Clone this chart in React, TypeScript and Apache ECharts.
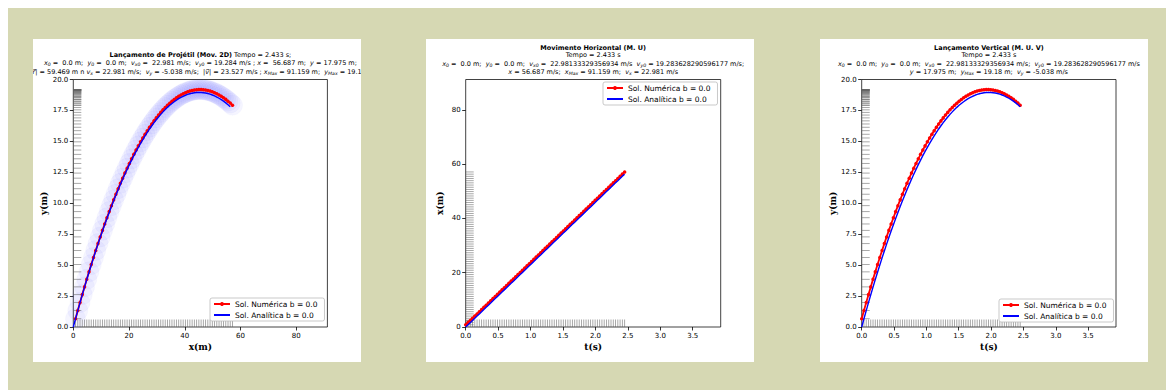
import React, { useEffect, useRef } from "react";
import * as echarts from "echarts";

// ---------------- data ----------------
const TEMPO = [0, 0.035, 0.07, 0.105, 0.14, 0.175, 0.21, 0.245, 0.28, 0.315, 0.35, 0.385, 0.42, 0.455, 0.49, 0.525, 0.56, 0.595, 0.63, 0.665, 0.7, 0.735, 0.77, 0.805, 0.84, 0.875, 0.91, 0.945, 0.98, 1.015, 1.05, 1.085, 1.12, 1.155, 1.19, 1.225, 1.26, 1.295, 1.33, 1.365, 1.4, 1.435, 1.47, 1.505, 1.54, 1.575, 1.61, 1.645, 1.68, 1.715, 1.75, 1.785, 1.82, 1.855, 1.89, 1.925, 1.96, 1.995, 2.03, 2.065, 2.1, 2.135, 2.17, 2.205, 2.24, 2.275, 2.31, 2.345, 2.38, 2.415, 2.45];

const X_ANALITICA = [0, 0.804, 1.609, 2.413, 3.217, 4.022, 4.826, 5.63, 6.435, 7.239, 8.043, 8.848, 9.652, 10.456, 11.261, 12.065, 12.869, 13.674, 14.478, 15.282, 16.087, 16.891, 17.695, 18.5, 19.304, 20.108, 20.913, 21.717, 22.521, 23.326, 24.13, 24.934, 25.739, 26.543, 27.347, 28.152, 28.956, 29.76, 30.565, 31.369, 32.173, 32.978, 33.782, 34.586, 35.391, 36.195, 36.999, 37.804, 38.608, 39.412, 40.217, 41.021, 41.825, 42.63, 43.434, 44.238, 45.043, 45.847, 46.651, 47.456, 48.26, 49.064, 49.869, 50.673, 51.477, 52.282, 53.086, 53.89, 54.695, 55.499, 56.303];

const Y_ANALITICA = [0, 0.6689, 1.3258, 1.9707, 2.6036, 3.2245, 3.8333, 4.4302, 5.015, 5.5878, 6.1485, 6.6973, 7.234, 7.7588, 8.2715, 8.7722, 9.2608, 9.7375, 10.2021, 10.6548, 11.0954, 11.5239, 11.9405, 12.3451, 12.7376, 13.1181, 13.4866, 13.8431, 14.1876, 14.52, 14.8404, 15.1489, 15.4453, 15.7296, 16.002, 16.2623, 16.5107, 16.747, 16.9713, 17.1835, 17.3838, 17.572, 17.7483, 17.9125, 18.0647, 18.2048, 18.333, 18.4491, 18.5532, 18.6454, 18.7254, 18.7935, 18.8496, 18.8936, 18.9256, 18.9456, 18.9536, 18.9496, 18.9335, 18.9054, 18.8654, 18.8133, 18.7491, 18.673, 18.5848, 18.4847, 18.3725, 18.2483, 18.112, 17.9638, 17.8035];

const X_NUMERICA = [0.804, 1.609, 2.413, 3.217, 4.022, 4.826, 5.63, 6.435, 7.239, 8.043, 8.848, 9.652, 10.456, 11.261, 12.065, 12.869, 13.674, 14.478, 15.282, 16.087, 16.891, 17.695, 18.5, 19.304, 20.108, 20.913, 21.717, 22.521, 23.326, 24.13, 24.934, 25.739, 26.543, 27.347, 28.152, 28.956, 29.76, 30.565, 31.369, 32.173, 32.978, 33.782, 34.586, 35.391, 36.195, 36.999, 37.804, 38.608, 39.412, 40.217, 41.021, 41.825, 42.63, 43.434, 44.238, 45.043, 45.847, 46.651, 47.456, 48.26, 49.064, 49.869, 50.673, 51.477, 52.282, 53.086, 53.89, 54.695, 55.499, 56.303, 57.108];

const Y_NUMERICA = [0.6689, 1.33, 1.9791, 2.6162, 3.2413, 3.8543, 4.4554, 5.0444, 5.6214, 6.1863, 6.7393, 7.2802, 7.8092, 8.3261, 8.831, 9.3238, 9.8047, 10.2735, 10.7304, 11.1752, 11.6079, 12.0287, 12.4375, 12.8342, 13.2189, 13.5916, 13.9523, 14.301, 14.6376, 14.9622, 15.2749, 15.5755, 15.864, 16.1406, 16.4051, 16.6577, 16.8982, 17.1267, 17.3431, 17.5476, 17.74, 17.9205, 18.0889, 18.2453, 18.3896, 18.522, 18.6423, 18.7506, 18.847, 18.9312, 19.0035, 19.0638, 19.112, 19.1482, 19.1724, 19.1846, 19.1848, 19.1729, 19.149, 19.1132, 19.0653, 19.0053, 18.9334, 18.8494, 18.7535, 18.6455, 18.5255, 18.3934, 18.2494, 18.0933, 17.9253];

const TICKS_X_M = [0, 20, 40, 60, 80];
const TICKS_Y_M = [0, 2.5, 5, 7.5, 10, 12.5, 15, 17.5, 20];
const TICKS_X_VERT = [0, 20, 40, 60, 80];
const TICKS_T = [0, 0.5, 1, 1.5, 2, 2.5, 3, 3.5];

const X_MAX = 91.159;
const Y_MAX = 20;
const T_MAX = 3.931;

const NUM = "Sol. Numérica b = 0.0";
const ANA = "Sol. Analítica b = 0.0";

// ---------------- layout (page coords) ----------------
const OFF = 8;
const P = (v: number) => v - OFF;
const FONT = "DejaVu Sans";
const SERIF = "DejaVu Serif";
const GREEN = "#d6d8b3";

const GRID_TOP = 79.5;
const GRID_BOTTOM = 327;

const pairs = (a: number[], b: number[]) => a.map((v, i) => [v, b[i]]);

const PANELS = [
  {
    panelX: 33, gx: 73.3, gw: 254.1,
    xMax: X_MAX, yMax: Y_MAX, xTicks: TICKS_X_M, yTicks: TICKS_Y_M, xDec: 0, yDec: 1,
    num: pairs(X_NUMERICA, Y_NUMERICA), ana: pairs(X_ANALITICA, Y_ANALITICA),
    rugX: X_NUMERICA, rugY: Y_NUMERICA, halo: true,
    legend: { left: 210, top: 298 },
    xName: "x(m)", yName: "y(m)", yNameX: 43.5,
  },
  {
    panelX: 426, gx: 465.7, gw: 255,
    xMax: T_MAX, yMax: X_MAX, xTicks: TICKS_T, yTicks: TICKS_X_VERT, xDec: 1, yDec: 0,
    num: pairs(TEMPO, X_NUMERICA), ana: pairs(TEMPO, X_ANALITICA),
    rugX: TEMPO, rugY: X_NUMERICA, halo: false,
    legend: { left: 603, top: 82 },
    xName: "t(s)", yName: "x(m)", yNameX: 440,
  },
  {
    panelX: 820, gx: 861.7, gw: 254.3,
    xMax: T_MAX, yMax: Y_MAX, xTicks: TICKS_T, yTicks: TICKS_Y_M, xDec: 1, yDec: 1,
    num: pairs(TEMPO, Y_NUMERICA), ana: pairs(TEMPO, Y_ANALITICA),
    rugX: TEMPO, rugY: Y_NUMERICA, halo: false,
    legend: { left: 999, top: 299 },
    xName: "t(s)", yName: "y(m)", yNameX: 833,
  },
];

const TITLES = [
  {
    cx: 200.4,
    lines: [
      { y: 54.5, dx: 0, t: "{b|Lançamento de Projétil (Mov. 2D)} Tempo = 2.433 s;" },
      { y: 62.5, dx: 0, t: "{i|x}{s|0} =  0.0 m;  {i|y}{s|0} =  0.0 m;  {i|v}{s|x0} =  22.981 m/s;  {i|v}{s|y0} = 19.284 m/s ; {i|x} =  56.687 m;  {i|y} = 17.975 m;" },
      { y: 72, dx: 3, t: "|{i|r\u20D7}| = 59.469 m n {i|v}{s|x} = 22.981 m/s;  {i|v}{s|y} = -5.038 m/s;  |{i|v\u20D7}| = 23.527 m/s ; {i|x}{s|Max} = 91.159 m;  {i|y}{s|Max} = 19.18 m;" },
    ],
  },
  {
    cx: 593.2,
    lines: [
      { y: 47.5, dx: 0, t: "{b|Movimento Horizontal (M. U)}" },
      { y: 55, dx: 0, t: "Tempo = 2.433 s" },
      { y: 63.5, dx: 0, t: "{i|x}{s|0} =  0.0 m;  {i|y}{s|0} =  0.0 m;  {i|v}{s|x0} =  22.98133329356934 m/s  {i|v}{s|y0} = 19.283628290596177 m/s;" },
      { y: 72, dx: 0, t: "{i|x} = 56.687 m/s;  {i|x}{s|Max} = 91.159 m;  {i|v}{s|x} = 22.981 m/s" },
    ],
  },
  {
    cx: 988.9,
    lines: [
      { y: 47.5, dx: 0, t: "{b|Lançamento Vertical (M. U. V)}" },
      { y: 55, dx: 0, t: "Tempo = 2.433 s" },
      { y: 63.5, dx: 0, t: "{i|x}{s|0} =  0.0 m;  {i|y}{s|0} =  0.0 m;  {i|v}{s|x0} =  22.98133329356934 m/s;  {i|v}{s|y0} = 19.283628290596177 m/s" },
      { y: 72, dx: 0, t: "{i|y} = 17.975 m;  {i|y}{s|Max} = 19.18 m;  {i|v}{s|y} = -5.038 m/s" },
    ],
  },
];

const RICH = {
  b: { fontWeight: "bold", fontSize: 6.5, fontFamily: FONT, lineHeight: 8 },
  i: { fontStyle: "italic", fontSize: 6.5, fontFamily: FONT, lineHeight: 8 },
  s: { fontStyle: "italic", fontSize: 4.6, fontFamily: FONT, lineHeight: 4, verticalAlign: "bottom" },
};

const RUG_COLOR = "rgba(95,95,95,0.75)";

function buildOption() {
  const grid: any[] = [];
  const xAxis: any[] = [];
  const yAxis: any[] = [];
  const series: any[] = [];
  const legend: any[] = [];
  const graphic: any[] = [];

  graphic.push({ type: "rect", z: -10, shape: { x: 0, y: 0, width: 1158, height: 382 }, style: { fill: GREEN }, silent: true });

  PANELS.forEach((p, i) => {
    graphic.push({
      type: "rect", z: -5, silent: true,
      shape: { x: P(p.panelX), y: P(39), width: 328, height: 323 },
      style: { fill: "#ffffff" },
    });
    grid.push({
      left: P(p.gx), top: P(GRID_TOP), width: p.gw, height: GRID_BOTTOM - GRID_TOP,
      show: true, borderColor: "#111", borderWidth: 0.8, backgroundColor: "#fff",
      containLabel: false, outerBoundsMode: "none",
    });
    const axisCommon = {
      gridIndex: i, type: "value", min: 0,
      axisLine: { show: false },
      splitLine: { show: false },
    };
    xAxis.push({
      ...axisCommon, max: p.xMax,
      axisTick: { show: true, inside: false, length: 3.5, customValues: p.xTicks, lineStyle: { color: "#000", width: 0.8 } },
      axisLabel: {
        customValues: p.xTicks, margin: 5, fontSize: 7, fontFamily: FONT, color: "#000",
        formatter: (v: number) => v.toFixed(p.xDec),
      },
    });
    yAxis.push({
      ...axisCommon, max: p.yMax,
      axisTick: { show: true, inside: false, length: 3.5, customValues: p.yTicks, lineStyle: { color: "#000", width: 0.8 } },
      axisLabel: {
        customValues: p.yTicks, margin: 5, fontSize: 7, fontFamily: FONT, color: "#000",
        formatter: (v: number) => v.toFixed(p.yDec),
      },
    });

    if (p.halo) {
      series.push({
        type: "scatter", name: "halo", xAxisIndex: i, yAxisIndex: i, data: p.num,
        symbol: "circle", symbolSize: 20, silent: true, z: 1,
        itemStyle: { color: "rgba(80,80,255,0.075)", borderColor: "rgba(80,80,255,0.06)", borderWidth: 0.6 },
      });
    }
    series.push({
      type: "scatter", name: "rugx", xAxisIndex: i, yAxisIndex: i,
      data: p.rugX.map((v) => [v, 0]), symbol: "rect", symbolSize: [0.9, 7.5], symbolOffset: [0, -3.75],
      itemStyle: { color: RUG_COLOR }, silent: true, z: 3, clip: false,
    });
    series.push({
      type: "scatter", name: "rugy", xAxisIndex: i, yAxisIndex: i,
      data: p.rugY.map((v) => [0, v]), symbol: "rect", symbolSize: [8, 0.9], symbolOffset: [4, 0],
      itemStyle: { color: RUG_COLOR }, silent: true, z: 3, clip: false,
    });
    series.push({
      type: "line", name: NUM, xAxisIndex: i, yAxisIndex: i, data: p.num,
      symbol: "circle", symbolSize: 3.5, showSymbol: true,
      lineStyle: { color: "#ff0000", width: 1.8 }, itemStyle: { color: "#ff0000" }, z: 4,
    });
    series.push({
      type: "line", name: ANA, xAxisIndex: i, yAxisIndex: i, data: p.ana,
      symbol: "none", showSymbol: false,
      lineStyle: { color: "#0000ff", width: 1.4 }, itemStyle: { color: "#0000ff" }, z: 5,
    });

    legend.push({
      orient: "vertical", left: P(p.legend.left), top: P(p.legend.top),
      itemWidth: 16, itemHeight: 5, itemGap: 3, padding: [2, 7, 2, 3],
      borderColor: "#bbbbbb", borderWidth: 0.8, borderRadius: 2, backgroundColor: "#ffffff",
      textStyle: { fontSize: 7.5, fontFamily: FONT, color: "#000" },
      data: [NUM, { name: ANA, itemStyle: { opacity: 0 } }], selectedMode: false,
    });

    graphic.push({
      type: "text", z: 10, x: P(p.gx + p.gw / 2), y: P(346.5), silent: true,
      style: { text: p.xName, fill: "#000", fontSize: 9, fontWeight: "bold", fontFamily: SERIF, textAlign: "center", textVerticalAlign: "middle" },
    });
    graphic.push({
      type: "text", z: 10, x: P(p.yNameX), y: P((GRID_TOP + GRID_BOTTOM) / 2), rotation: Math.PI / 2, silent: true,
      style: { text: p.yName, fill: "#000", fontSize: 9, fontWeight: "bold", fontFamily: SERIF, textAlign: "center", textVerticalAlign: "middle" },
    });
  });

  TITLES.forEach((tt) => {
    tt.lines.forEach((ln) => {
      graphic.push({
        type: "text", z: 10, x: P(tt.cx + ln.dx), y: P(ln.y), silent: true,
        style: {
          text: ln.t, fill: "#000", fontSize: 6.5, fontFamily: FONT, lineHeight: 8,
          textAlign: "center", textVerticalAlign: "middle", rich: RICH,
        },
      });
    });
  });

  // masks clipping the overflowing title line of the first panel
  graphic.push({ type: "rect", z: 20, silent: true, shape: { x: 0, y: P(39), width: P(33), height: 45 }, style: { fill: GREEN } });
  graphic.push({ type: "rect", z: 20, silent: true, shape: { x: P(361), y: P(39), width: 65, height: 45 }, style: { fill: GREEN } });

  return {
    animation: false,
    backgroundColor: GREEN,
    grid, xAxis, yAxis, series, legend, graphic,
  };
}

export default function App() {
  const ref = useRef<HTMLDivElement>(null);
  useEffect(() => {
    if (!ref.current) return;
    const chart = echarts.init(ref.current, undefined, { renderer: "svg" });
    chart.setOption(buildOption() as any);
    return () => chart.dispose();
  }, []);
  return (
    <div
      ref={ref}
      style={{ position: "absolute", left: OFF, top: OFF, width: 1158, height: 382 }}
    />
  );
}
